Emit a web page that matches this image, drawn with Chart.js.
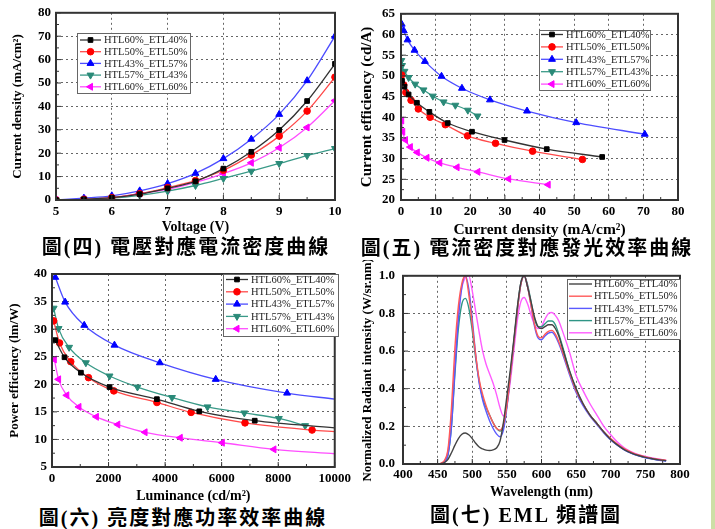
<!DOCTYPE html>
<html>
<head>
<meta charset="utf-8">
<script src="https://cdn.jsdelivr.net/npm/chart.js@4.4.1/dist/chart.umd.min.js"></script>
<style>
  html, body { margin: 0; padding: 0; background: #fff; }
  #wrap { position: relative; width: 715px; height: 529px; overflow: hidden; background: #fff; }
  canvas { position: absolute; }
  .cap { position: absolute; width: 400px; text-align: center; white-space: nowrap;
         font-family: "Liberation Serif", "Noto Sans CJK TC", serif; font-weight: bold;
         font-size: 20px; line-height: 24px; letter-spacing: 2px; color: #000; }
  #strip { position: absolute; left: 711px; top: 0; width: 4px; height: 529px; background: #cddfa6; }
</style>
</head>
<body>
<div id="wrap">
  <canvas id="c1" width="355" height="236" style="left:0;top:0"></canvas>
  <canvas id="c2" width="355" height="240" style="left:355px;top:0"></canvas>
  <canvas id="c3" width="355" height="245" style="left:0;top:260px"></canvas>
  <canvas id="c4" width="355" height="245" style="left:355px;top:260px"></canvas>
  <div class="cap" style="left:-14px;top:235px">圖(四) 電壓對應電流密度曲線</div>
  <div class="cap" style="left:327px;top:236px">圖(五) 電流密度對應發光效率曲線</div>
  <div class="cap" style="left:-17px;top:506px">圖(六) 亮度對應功率效率曲線</div>
  <div class="cap" style="left:326px;top:503px">圖(七) EML 頻譜圖</div>
  <div id="strip"></div>
</div>
<script>
// ---- data ----
const seriesNames = ['HTL60%_ETL40%', 'HTL50%_ETL50%', 'HTL43%_ETL57%', 'HTL57%_ETL43%', 'HTL60%_ETL60%'];

// fig 4: current density vs voltage
const voltage = [5, 5.5, 6, 6.5, 7, 7.5, 8, 8.5, 9, 9.5, 10];
const jv6040 = [0, 0.3, 1.0, 2.5, 5.0, 8.0, 13.4, 20.6, 29.9, 42.3, 58.2];
const jv5050 = [0, 0.3, 1.0, 2.7, 5.3, 8.3, 12.7, 19.2, 27.3, 38.0, 52.5];
const jv4357 = [0, 0.8, 1.8, 3.9, 7.0, 11.4, 17.7, 26.0, 36.6, 51.0, 70.0];
const jv5743 = [0, 0.3, 0.8, 2.0, 3.8, 6.2, 9.2, 12.3, 15.6, 19.0, 22.0];
const jv6060 = [0, 0.3, 1.0, 2.8, 4.5, 7.5, 11.3, 15.9, 22.3, 31.0, 42.5];

// fig 5: current efficiency vs current density
const ceJ6040 = [0.3, 1.0, 2.2, 4.6, 8.2, 13.5, 20.5, 29.9, 42.1, 58.1];
const ce6040  = [48.8, 47.4, 45.5, 43.5, 41.3, 38.6, 36.5, 34.5, 32.3, 30.4];
const ceJ5050 = [0.2, 0.8, 1.4, 2.9, 5.0, 8.4, 12.8, 19.2, 27.3, 38.0, 52.4];
const ce5050  = [50.2, 47.8, 46.0, 44.1, 42.0, 40.0, 38.2, 35.5, 33.7, 31.8, 29.8];
const ceJ4357 = [0.2, 0.8, 1.9, 3.9, 6.9, 11.7, 17.6, 25.7, 36.4, 50.6, 70.4];
const ce4357  = [62.5, 60.9, 58.7, 56.2, 53.5, 49.9, 47.0, 44.2, 41.5, 38.7, 35.9];
const ceJ5743 = [0.1, 0.3, 1.0, 2.2, 4.1, 6.5, 9.2, 12.3, 15.7, 19.3, 22.1];
const ce5743  = [53.7, 52.5, 51.1, 49.6, 48.0, 46.6, 45.1, 43.7, 42.9, 41.7, 40.3];
const ceJ6060 = [0.2, 0.5, 1.3, 2.7, 4.7, 7.5, 11.2, 16.2, 22.2, 31.1, 42.5];
const ce6060  = [39.2, 36.5, 34.5, 32.8, 31.5, 30.2, 29.0, 27.9, 26.8, 25.1, 23.7];

// fig 6: power efficiency vs luminance (last value of some series = curve end, no marker)
const lum6040 = [116, 442, 1023, 2035, 3710, 5209, 7170, 10000];
const pe6040  = [28.0, 24.9, 22.1, 19.5, 17.3, 15.1, 13.4, 12.1];
const lum5050 = [58, 267, 663, 1291, 2186, 3710, 4919, 6826, 9198, 10000];
const pe5050  = [31.5, 27.5, 24.1, 21.2, 18.8, 16.7, 14.9, 13.0, 11.7, 11.4];
const lum4357 = [116, 465, 1140, 2209, 3814, 5791, 8314, 10000];
const pe4357  = [39.4, 34.9, 30.7, 27.1, 23.9, 20.9, 18.4, 17.3];
const lum5743 = [58, 233, 605, 1198, 2035, 3023, 4244, 5500, 6802, 8023, 8953];
const pe5743  = [33.8, 30.1, 26.7, 23.9, 21.5, 19.5, 17.6, 15.9, 14.8, 13.8, 12.5];
const lum6060 = [81, 233, 523, 953, 1570, 2326, 3291, 4535, 6023, 7849, 10000];
const pe6060  = [24.5, 20.9, 18.0, 15.9, 14.1, 12.7, 11.3, 10.3, 9.4, 8.2, 7.4];
const peTailNoMarker = [true, true, true, false, true];

// fig 7: EL spectra
const wavelength = [400, 440, 450, 455, 460, 465, 470, 475, 480, 485, 490, 495, 500, 505, 510, 515, 520, 525, 530, 535,
  540, 545, 550, 555, 560, 565, 570, 575, 580, 585, 590, 595, 600, 605, 610, 615, 620, 625, 630, 640,
  650, 660, 670, 680, 690, 700, 710, 720, 730, 740, 750, 760, 770, 780];
const el6040 = [0, 0, 0, 0.002, 0.008, 0.025, 0.06, 0.1, 0.135, 0.158, 0.165, 0.155, 0.135, 0.11, 0.09, 0.08, 0.074, 0.072, 0.075, 0.085,
  0.12, 0.22, 0.36, 0.5, 0.66, 0.83, 0.96, 1.0, 0.94, 0.86, 0.78, 0.73, 0.72, 0.73, 0.74, 0.74, 0.72, 0.68, 0.62, 0.5,
  0.4, 0.32, 0.26, 0.215, 0.17, 0.13, 0.1, 0.075, 0.058, 0.045, 0.035, 0.028, 0.022, 0.018];
const el5050 = [0, 0, 0, 0.005, 0.02, 0.08, 0.3, 0.62, 0.84, 0.96, 1.0, 0.9, 0.74, 0.58, 0.45, 0.37, 0.31, 0.26, 0.22, 0.19,
  0.18, 0.21, 0.31, 0.47, 0.64, 0.81, 0.95, 1.0, 0.94, 0.84, 0.74, 0.68, 0.67, 0.69, 0.705, 0.71, 0.69, 0.65, 0.6, 0.49,
  0.39, 0.32, 0.26, 0.215, 0.17, 0.135, 0.105, 0.08, 0.062, 0.048, 0.038, 0.03, 0.024, 0.02];
const el4357 = [0, 0, 0, 0.002, 0.01, 0.05, 0.2, 0.5, 0.77, 0.94, 1.0, 0.93, 0.77, 0.58, 0.43, 0.34, 0.28, 0.23, 0.19, 0.16,
  0.145, 0.18, 0.3, 0.47, 0.64, 0.81, 0.95, 1.0, 0.94, 0.84, 0.73, 0.67, 0.66, 0.68, 0.695, 0.7, 0.68, 0.64, 0.59, 0.48,
  0.38, 0.31, 0.255, 0.21, 0.165, 0.128, 0.098, 0.074, 0.056, 0.043, 0.033, 0.026, 0.02, 0.016];
const el5743 = [0, 0, 0, 0.002, 0.01, 0.05, 0.2, 0.48, 0.72, 0.85, 0.88, 0.83, 0.71, 0.56, 0.44, 0.35, 0.3, 0.26, 0.22, 0.19,
  0.175, 0.2, 0.31, 0.48, 0.65, 0.82, 0.96, 1.0, 0.95, 0.86, 0.77, 0.73, 0.73, 0.745, 0.76, 0.76, 0.74, 0.69, 0.63, 0.5,
  0.4, 0.32, 0.26, 0.215, 0.17, 0.132, 0.1, 0.076, 0.058, 0.045, 0.035, 0.028, 0.022, 0.018];
const el6060 = [0, 0, 0, 0.003, 0.015, 0.07, 0.25, 0.55, 0.8, 0.94, 0.99, 1.0, 0.92, 0.81, 0.7, 0.6, 0.53, 0.48, 0.43, 0.37,
  0.3, 0.255, 0.31, 0.44, 0.6, 0.76, 0.86, 0.885, 0.85, 0.79, 0.74, 0.72, 0.73, 0.77, 0.8, 0.805, 0.79, 0.76, 0.71, 0.6,
  0.47, 0.39, 0.32, 0.26, 0.2, 0.155, 0.115, 0.085, 0.065, 0.05, 0.04, 0.032, 0.025, 0.02];

// ---- styles ----
const markerColors = ['#000000', '#ff0000', '#0000ff', '#2a8a78', '#ff00ff'];
const lineColors = ['#333333', '#ff4a4a', '#4d4dff', '#3a9a88', '#ff4dff'];
const specColors = ['#444444', '#ff5a5a', '#5a5aff', '#2f9585', '#ff5cff'];
const pointStyles = ['rect', 'circle', 'triangle', 'triangle', 'triangle'];
const pointRot = [0, 0, 0, 180, -90];

Chart.defaults.font.family = '"Liberation Serif", "Times New Roman", serif';
Chart.defaults.color = '#000';

function xy(xs, ys) {
  return xs.map((x, i) => ({ x: x, y: ys[i] }));
}

const frame = {
  id: 'frame',
  afterDatasetsDraw(chart) {
    const { ctx, chartArea: a, scales } = chart;
    const xs = scales.x, ys = scales.y;
    ctx.save();
    ctx.strokeStyle = '#333';
    ctx.lineWidth = 1;
    ctx.beginPath();
    const xv = xs.ticks.map(t => t.value);
    const yv = ys.ticks.map(t => t.value);
    xv.forEach((v, i) => {
      const px = xs.getPixelForValue(v);
      ctx.moveTo(px, a.bottom); ctx.lineTo(px, a.bottom - 5);
      if (i < xv.length - 1) {
        const pm = xs.getPixelForValue((v + xv[i + 1]) / 2);
        ctx.moveTo(pm, a.bottom); ctx.lineTo(pm, a.bottom - 3);
      }
    });
    yv.forEach((v, i) => {
      const py = ys.getPixelForValue(v);
      ctx.moveTo(a.left, py); ctx.lineTo(a.left + 5, py);
      if (i < yv.length - 1) {
        const pm = ys.getPixelForValue((v + yv[i + 1]) / 2);
        ctx.moveTo(a.left, pm); ctx.lineTo(a.left + 3, pm);
      }
    });
    ctx.stroke();
    ctx.lineWidth = 2;
    ctx.strokeRect(a.left, a.top, a.right - a.left, a.bottom - a.top);
    ctx.restore();
  }
};

const boxLegend = {
  id: 'boxLegend',
  afterDraw(chart, args, o) {
    if (!o || !o.box) return;
    const ctx = chart.ctx;
    ctx.save();
    ctx.fillStyle = '#fff';
    ctx.fillRect(o.box[0], o.box[1], o.box[2], o.box[3]);
    ctx.strokeStyle = '#666';
    ctx.lineWidth = 1;
    ctx.strokeRect(o.box[0] + 0.5, o.box[1] + 0.5, o.box[2], o.box[3]);
    ctx.font = '10.5px "Liberation Serif"';
    ctx.textBaseline = 'middle';
    chart.data.datasets.forEach((ds, i) => {
      const y = o.row0 + i * o.pitch;
      ctx.strokeStyle = ds.borderColor;
      ctx.lineWidth = ds.borderWidth;
      ctx.beginPath();
      ctx.moveTo(o.line[0], y);
      ctx.lineTo(o.line[1], y);
      ctx.stroke();
      if (o.markers && Chart.helpers && Chart.helpers.drawPoint) {
        ctx.fillStyle = markerColors[i];
        ctx.strokeStyle = markerColors[i];
        ctx.lineWidth = 1;
        Chart.helpers.drawPoint(ctx, { pointStyle: pointStyles[i], rotation: pointRot[i],
          radius: pointStyles[i] === 'triangle' ? 4 : 3.3, borderWidth: 1 }, (o.line[0] + o.line[1]) / 2, y);
      }
      ctx.fillStyle = '#222';
      ctx.fillText(ds.label, o.textX, y + 0.5);
    });
    ctx.restore();
  }
};

function scales(o) {
  const tickFont = { size: 13, weight: 'bold' };
  return {
    x: {
      type: 'linear', min: o.xmin, max: o.xmax,
      afterFit: s => { s.height = o.xh; },
      ticks: { stepSize: o.xstep, padding: o.xtp, font: tickFont, maxRotation: 0, autoSkip: false,
        callback: v => String(v) },
      grid: { color: '#666', lineWidth: 1, drawTicks: false },
      border: { display: false, dash: [2, 3] },
      title: { display: true, text: o.xtitle, font: { size: o.xtsize || 14, weight: 'bold' }, padding: { top: 0, bottom: o.xpb } }
    },
    y: {
      type: 'linear', min: o.ymin, max: o.ymax,
      afterFit: s => { s.width = o.yw; },
      ticks: { stepSize: o.ystep, padding: o.ytp, font: tickFont, autoSkip: false,
        callback: o.yfmt || (v => String(v)) },
      grid: { color: '#666', lineWidth: 1, drawTicks: false },
      border: { display: false, dash: [2, 3] },
      title: { display: true, text: o.ytitle, font: { size: o.ytsize || 13, weight: 'bold' }, padding: { top: o.ypt, bottom: 0 } }
    }
  };
}

function markerSet(label, i, data, noTail) {
  const n = data.length;
  return {
    label: label, data: data,
    borderColor: lineColors[i], borderWidth: 1.3,
    backgroundColor: markerColors[i],
    pointBackgroundColor: markerColors[i], pointBorderColor: markerColors[i], pointBorderWidth: 1,
    pointStyle: pointStyles[i], pointRotation: pointRot[i],
    pointRadius: data.map((d, k) => (noTail && k === n - 1) ? 0 : (pointStyles[i] === 'triangle' ? 4 : 3.3)),
    cubicInterpolationMode: 'monotone', fill: false
  };
}

function makeChart(id, datasets, sc, pad, legend) {
  return new Chart(document.getElementById(id), {
    type: 'line',
    data: { datasets: datasets },
    options: {
      responsive: false, animation: false, events: [],
      layout: { padding: pad },
      scales: sc,
      plugins: { legend: { display: false }, tooltip: { enabled: false }, boxLegend: legend }
    },
    plugins: [frame, boxLegend]
  });
}

// fig 4
const jvSeries = [jv6040, jv5050, jv4357, jv5743, jv6060];
makeChart('c1',
  jvSeries.map((ys, i) => markerSet(seriesNames[i], i, xy(voltage, ys), false)),
  scales({ xmin: 5, xmax: 10, xstep: 1, ymin: 0, ymax: 80, ystep: 10, xh: 36, yw: 56, xtp: 4, ytp: 5,
    xpb: 0, ypt: 10, xtitle: 'Voltage (V)', ytitle: 'Current density (mA/cm²)' }),
  { top: 10, right: 20, left: 0, bottom: 0 },
  { box: [77, 33, 113, 60], row0: 40, pitch: 11.7, line: [80, 101], textX: 104, markers: true });

// fig 5
const ceX = [ceJ6040, ceJ5050, ceJ4357, ceJ5743, ceJ6060];
const ceY = [ce6040, ce5050, ce4357, ce5743, ce6060];
makeChart('c2',
  ceY.map((ys, i) => markerSet(seriesNames[i], i, xy(ceX[i], ys), false)),
  scales({ xmin: 0, xmax: 80, xstep: 10, ymin: 20, ymax: 65, ystep: 5, xh: 40, yw: 46, xtp: 4, ytp: 6,
    xpb: 1, ypt: 3, xtsize: 15.5, ytsize: 15, xtitle: 'Current density (mA/cm²)', ytitle: 'Current efficiency (cd/A)' }),
  { top: 8, right: 32, left: 0, bottom: 0 },
  { box: [184, 30, 111, 60], row0: 34.5, pitch: 12.4, line: [186, 208], textX: 211, markers: true });

// fig 6
const peX = [lum6040, lum5050, lum4357, lum5743, lum6060];
const peY = [pe6040, pe5050, pe4357, pe5743, pe6060];
makeChart('c3',
  peY.map((ys, i) => markerSet(seriesNames[i], i, xy(peX[i], ys), peTailNoMarker[i])),
  scales({ xmin: 0, xmax: 10000, xstep: 2000, ymin: 5, ymax: 40, ystep: 5, xh: 38, yw: 52, xtp: 4, ytp: 5,
    xpb: 0, ypt: 7, xtitle: 'Luminance (cd/m²)', ytitle: 'Power efficiency (lm/W)' }),
  { top: 14, right: 17, left: 0, bottom: 0 },
  { box: [223, 14, 115, 62], row0: 19.5, pitch: 12.3, line: [226, 248], textX: 251, markers: true });

// fig 7
const elSeries = [el6040, el5050, el4357, el5743, el6060];
makeChart('c4',
  elSeries.map((ys, i) => ({
    label: seriesNames[i], data: xy(wavelength, ys),
    borderColor: specColors[i], borderWidth: 1.4, pointRadius: 0,
    cubicInterpolationMode: 'monotone', fill: false
  })),
  scales({ xmin: 400, xmax: 800, xstep: 50, ymin: 0, ymax: 1.0, ystep: 0.2, xh: 41, yw: 48, xtp: 3, ytp: 8,
    xpb: 4, ypt: 5, ytsize: 13, xtitle: 'Wavelength (nm)', ytitle: 'Normalized Radiant intensity (W/sr.nm)',
    yfmt: v => v.toFixed(1) }),
  { top: 15, right: 30, left: 0, bottom: 0 },
  { box: [212, 19, 113, 60], row0: 24, pitch: 12.2, line: [214, 237], textX: 239, markers: false });
</script>
</body>
</html>
